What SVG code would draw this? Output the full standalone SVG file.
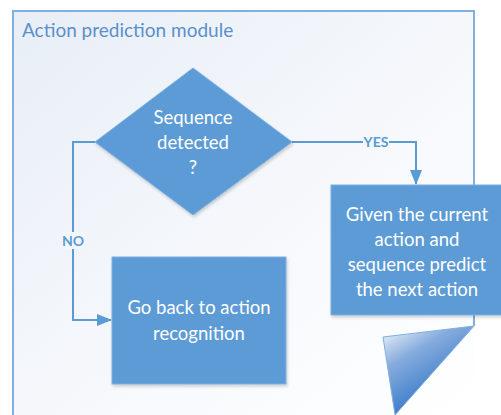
<svg xmlns="http://www.w3.org/2000/svg" width="501" height="415" viewBox="0 0 501 415">
<defs>
<linearGradient id="panelG" x1="0" y1="0" x2="1" y2="1">
<stop offset="0" stop-color="#e8eef7"/>
<stop offset="0.6" stop-color="#f7f9fc"/>
<stop offset="1" stop-color="#ffffff"/>
</linearGradient>
<linearGradient id="curlG" x1="0.1" y1="0.1" x2="0.6" y2="0.9">
<stop offset="0" stop-color="#d3e0f2"/>
<stop offset="0.3" stop-color="#86acdd"/>
<stop offset="1" stop-color="#2a70c6"/>
</linearGradient>
<filter id="sh" x="-10%" y="-10%" width="130%" height="130%">
<feDropShadow dx="1" dy="2" stdDeviation="1.5" flood-color="#000" flood-opacity="0.18"/>
</filter>
<marker id="arr" viewBox="0 0 15 12" refX="14" refY="6" markerWidth="7.5" markerHeight="6" orient="auto" markerUnits="strokeWidth">
<path d="M0,0 L15,6 L0,12 z" fill="#5b9bd5"/>
</marker>
</defs>
<style>
.conn{fill:none;stroke:#5b9bd5;stroke-width:2}
.node{fill:#5b9bd5;stroke:#7fb0e0;stroke-width:1}
.nt{font-family:Lato,"Open Sans","Liberation Sans",sans-serif;font-size:18.5px;fill:#ffffff;text-anchor:middle}
.lbl{font-family:Lato,"Open Sans","Liberation Sans",sans-serif;font-size:14px;font-weight:bold;fill:#5b9bd5;text-anchor:middle}
</style>
<rect width="501" height="415" fill="#ffffff"/>
<g id="panel">
<rect x="13" y="11" width="461" height="404" fill="url(#panelG)"/>
<path d="M13,415 L13,11 L474,11 L474,326" fill="none" stroke="#7fb0e0" stroke-width="2"/>
<text x="22" y="37" font-family="Lato, Open Sans, Liberation Sans, sans-serif" font-size="19" fill="#5b8fcc">Action prediction module</text>
</g>
<g id="connectors">
<polyline class="conn" points="95,142 73,142 73,320 111,320" marker-end="url(#arr)"/>
<rect x="62" y="232" width="22" height="17" fill="#f3f6fb"/>
<text class="lbl" x="73" y="246">NO</text>
<polyline class="conn" points="292,142 416,142 416,184" marker-end="url(#arr)"/>
<rect x="363" y="135" width="26" height="15" fill="#f4f7fb"/>
<text class="lbl" x="376" y="147">YES</text>
</g>
<g id="decision">
<polygon class="node" filter="url(#sh)" points="193,68 292,142 193,215 95,142"/>
<text class="nt" x="193" y="124">Sequence</text>
<text class="nt" x="193" y="149">detected</text>
<text class="nt" x="193" y="174">?</text>
</g>
<g id="goback">
<rect class="node" filter="url(#sh)" x="112" y="257" width="174" height="127"/>
<text class="nt" x="199" y="314">Go back to action</text>
<text class="nt" x="199" y="340">recognition</text>
</g>
<g id="predict">
<rect class="node" filter="url(#sh)" x="331" y="185" width="172" height="130"/>
<text class="nt" x="417" y="221">Given the current</text>
<text class="nt" x="417" y="246">action and</text>
<text class="nt" x="417" y="271">sequence predict</text>
<text class="nt" x="417" y="296">the next action</text>
</g>
<g id="curl">
<polygon points="383,337 474,326 395,415" fill="url(#curlG)" stroke="#7fb0e0" stroke-width="1"/>
</g>
</svg>
